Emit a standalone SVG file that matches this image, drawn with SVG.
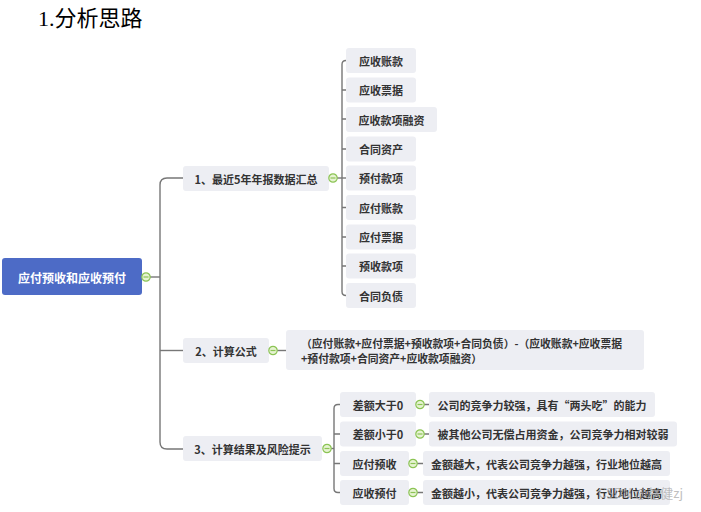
<svg xmlns="http://www.w3.org/2000/svg" width="701" height="512" viewBox="0 0 701 512">
<style>
.t{font-family:"Noto Sans CJK SC","Microsoft YaHei",sans-serif;font-weight:700;fill:#333;font-size:11px;}
.c{text-anchor:middle;dominant-baseline:central;}
.box{fill:#edeef3;}
.ln{fill:none;stroke:#777;stroke-width:1.4;}
.tg{fill:#e6f3d2;stroke:#8cc455;stroke-width:1.2;}
.tgm{stroke:#8cc455;stroke-width:1.2;}
</style>
<defs>
<g id="tog"><circle class="tg" r="4.2"/><line class="tgm" x1="-2.5" y1="0" x2="2.5" y2="0"/></g>
</defs>
<rect width="701" height="512" fill="#fff"/>
<text x="38" y="26" font-family="'Liberation Serif','Noto Sans CJK SC',serif" font-size="22" fill="#000">1.分析思路</text>

<g id="connectors">
<path class="ln" d="M150,277 H160"/>
<path class="ln" d="M183,178 H167 Q160,178 160,185 V442 Q160,449 167,449 H183"/>
<path class="ln" d="M160,350.5 H183"/>
<path class="ln" d="M337,178 H346"/>
<path class="ln" d="M346,60.5 Q342,60.5 342,64.5 V291.5 Q342,295.5 346,295.5"/>
<path class="ln" d="M342,90 H346 M342,119 H346 M342,149 H346 M342,207.5 H346 M342,237 H346 M342,266 H346"/>
<path class="ln" d="M277,350.5 H286"/>
<path class="ln" d="M331,448.5 H334"/>
<path class="ln" d="M340,404.5 H338 Q334,404.5 334,408.5 V488.5 Q334,492.5 338,492.5 H340 M334,434 H340 M334,463.5 H340"/>
<path class="ln" d="M424,404.5 H429 M424,434 H429 M417,463.5 H423 M417,492.5 H423"/>
</g>

<g id="root">
<rect x="2" y="258" width="140" height="37" rx="3" fill="#4d6bc6"/>
<text class="t c" x="72" y="277" style="fill:#fff;font-size:12px">应付预收和应收预付</text>
<use href="#tog" x="146" y="277"/>
</g>

<g id="b1">
<rect class="box" x="183" y="166" width="146" height="25" rx="3"/>
<text class="t c" x="256" y="178.5">1、最近5年年报数据汇总</text>
<use href="#tog" x="333" y="178"/>
</g>
<g id="l1"><rect class="box" x="346" y="48" width="70" height="25" rx="3"/><text class="t c" x="381" y="60.5">应收账款</text></g>
<g id="l2"><rect class="box" x="346" y="77.5" width="70" height="25" rx="3"/><text class="t c" x="381" y="90">应收票据</text></g>
<g id="l3"><rect class="box" x="346" y="107" width="91" height="25" rx="3"/><text class="t c" x="391.5" y="119.5">应收款项融资</text></g>
<g id="l4"><rect class="box" x="346" y="136.5" width="70" height="25" rx="3"/><text class="t c" x="381" y="149">合同资产</text></g>
<g id="l5"><rect class="box" x="346" y="165.5" width="70" height="25" rx="3"/><text class="t c" x="381" y="178">预付款项</text></g>
<g id="l6"><rect class="box" x="346" y="195" width="70" height="25" rx="3"/><text class="t c" x="381" y="207.5">应付账款</text></g>
<g id="l7"><rect class="box" x="346" y="224.5" width="70" height="25" rx="3"/><text class="t c" x="381" y="237">应付票据</text></g>
<g id="l8"><rect class="box" x="346" y="253.5" width="70" height="25" rx="3"/><text class="t c" x="381" y="266">预收款项</text></g>
<g id="l9"><rect class="box" x="346" y="283" width="70" height="25" rx="3"/><text class="t c" x="381" y="295.5">合同负债</text></g>

<g id="b2">
<rect class="box" x="183" y="338" width="86" height="25" rx="3"/>
<text class="t c" x="226" y="350.5">2、计算公式</text>
<use href="#tog" x="273" y="350.5"/>
</g>
<g id="formula">
<rect class="box" x="286" y="330" width="358" height="40" rx="3"/>
<text class="t" x="301" y="347.5" style="font-size:10.8px">（应付账款+应付票据+预收款项+合同负债）-（应收账款+应收票据</text>
<text class="t" x="301" y="362.5" style="font-size:10.8px">+预付款项+合同资产+应收款项融资）</text>
</g>

<g id="b3">
<rect class="box" x="183" y="436" width="139" height="25" rx="3"/>
<text class="t c" x="252.5" y="448.5">3、计算结果及风险提示</text>
<use href="#tog" x="327" y="448.5"/>
</g>
<g id="c1"><rect class="box" x="340" y="392" width="76" height="25" rx="3"/><text class="t c" x="378" y="404.5">差额大于0</text><use href="#tog" x="420" y="404.5"/></g>
<g id="c2"><rect class="box" x="340" y="421.5" width="76" height="25" rx="3"/><text class="t c" x="378" y="434">差额小于0</text><use href="#tog" x="420" y="434"/></g>
<g id="c3"><rect class="box" x="340" y="451" width="69" height="25" rx="3"/><text class="t c" x="374.5" y="463.5">应付预收</text><use href="#tog" x="413" y="463.5"/></g>
<g id="c4"><rect class="box" x="340" y="480" width="69" height="25" rx="3"/><text class="t c" x="374.5" y="492.5">应收预付</text><use href="#tog" x="413" y="492.5"/></g>
<g id="d1"><rect class="box" x="429" y="392" width="226" height="25" rx="3"/><text class="t c" x="542" y="404.5">公司的竞争力较强，具有“两头吃”的能力</text></g>
<g id="d2"><rect class="box" x="429" y="421.5" width="248" height="25" rx="3"/><text class="t c" x="553" y="434">被其他公司无偿占用资金，公司竞争力相对较弱</text></g>
<g id="d3"><rect class="box" x="423" y="451" width="247" height="25" rx="3"/><text class="t c" x="546.5" y="463.5">金额越大，代表公司竞争力越强，行业地位越高</text></g>
<g id="d4"><rect class="box" x="423" y="480" width="247" height="25" rx="3"/><text class="t c" x="546.5" y="492.5">金额越小，代表公司竞争力越强，行业地位越高</text></g>

<text x="598" y="498" font-family="'Noto Sans CJK SC',sans-serif" font-size="13" fill="#aaa" fill-opacity="0.75">CSDN @赵健zj</text>
</svg>
